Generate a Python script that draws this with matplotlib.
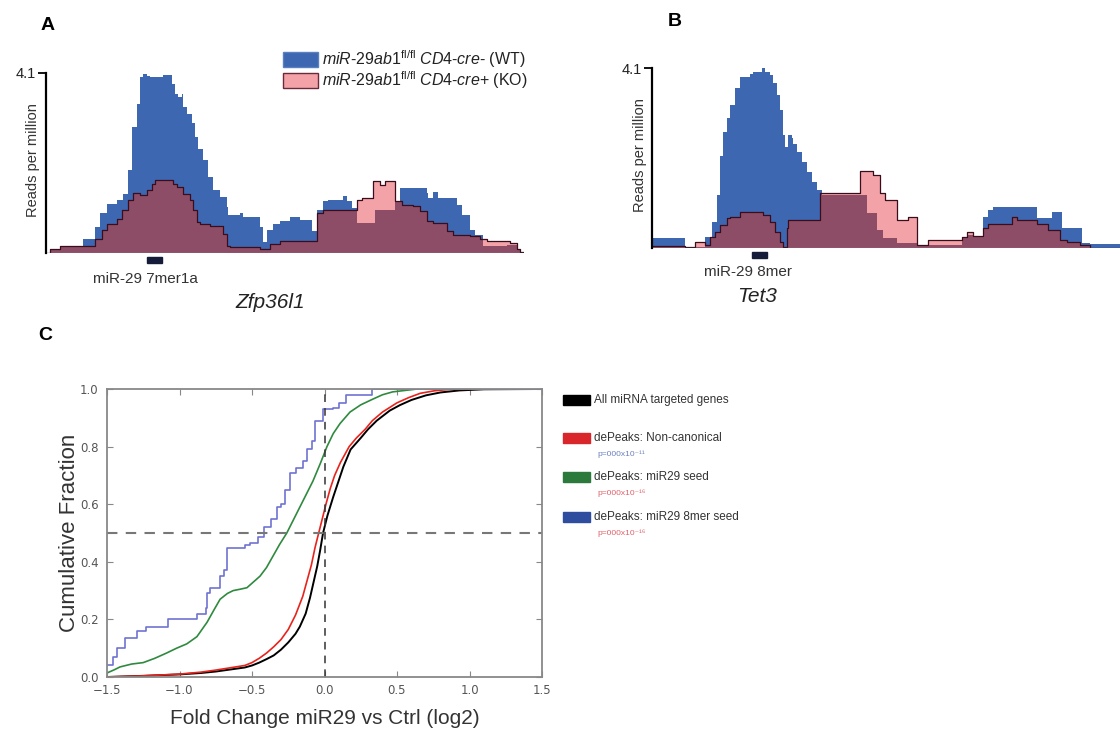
import numpy as np
import matplotlib
matplotlib.use("Agg")
import matplotlib.pyplot as plt
from matplotlib.patches import Rectangle

plt.rcParams['font.family'] = ['Liberation Sans', 'DejaVu Sans']
plt.rcParams['mathtext.fontset'] = 'custom'
plt.rcParams['mathtext.rm'] = 'Liberation Sans'
plt.rcParams['mathtext.it'] = 'Liberation Sans:italic'
plt.rcParams['mathtext.bf'] = 'Liberation Sans:bold'

# ---------------- data: coverage tracks (position, reads per million) -------------
WT_A = [(0, 0.0), (4, 0.08), (14, 0.17), (37, 0.33), (49, 0.59), (54, 0.9), (61, 1.11), (71, 1.2),
        (77, 1.35), (82, 1.88), (86, 2.87), (91, 3.4), (94, 4.0), (97, 4.08), (101, 4.03), (104, 4.0),
        (117, 4.05), (126, 3.86), (129, 3.63), (132, 3.55), (136, 3.62), (137, 3.33), (141, 3.17),
        (146, 2.95), (149, 2.64), (152, 2.38), (157, 2.11), (162, 1.73), (167, 1.43), (174, 1.28),
        (181, 1.05), (182, 0.86), (194, 0.9), (197, 0.82), (214, 0.59), (217, 0.25), (221, 0.52),
        (227, 0.67), (234, 0.72), (244, 0.81), (254, 0.76), (266, 0.49), (271, 0.99), (277, 1.18),
        (282, 1.21), (297, 1.29), (301, 1.18), (306, 1.03), (311, 0.68), (329, 0.99), (349, 1.18),
        (354, 1.48), (381, 1.37), (382, 1.25), (387, 1.4), (392, 1.25), (411, 1.1), (416, 0.87),
        (424, 0.53), (429, 0.42), (437, 0.15), (461, 0.19), (471, 0.08), (474, 0.02)]
KO_A = [(0, 0.0), (4, 0.08), (14, 0.17), (49, 0.33), (56, 0.52), (61, 0.67), (71, 0.78), (76, 0.97),
        (82, 1.2), (87, 1.37), (94, 1.31), (101, 1.43), (106, 1.58), (109, 1.67), (127, 1.58),
        (131, 1.5), (137, 1.35), (144, 1.2), (147, 0.97), (151, 0.71), (154, 0.65), (164, 0.61),
        (177, 0.44), (181, 0.17), (184, 0.14), (214, 0.1), (224, 0.2), (234, 0.28), (271, 0.91),
        (277, 0.99), (311, 1.21), (316, 1.25), (327, 1.63), (334, 1.56), (339, 1.63), (349, 1.18),
        (356, 1.1), (367, 1.06), (374, 0.95), (381, 0.72), (387, 0.68), (401, 0.49), (407, 0.42),
        (424, 0.38), (434, 0.33), (441, 0.27), (464, 0.23), (471, 0.08), (474, 0.02)]
END_A = 477

WT_B = [(0, 0.22), (33, 0.02), (53, 0.26), (60, 0.6), (65, 1.2), (68, 2.1), (71, 2.65), (75, 2.95),
        (78, 3.26), (83, 3.64), (88, 3.9), (98, 3.97), (101, 4.02), (110, 4.09), (113, 4.02),
        (118, 3.94), (121, 3.75), (125, 3.48), (128, 3.14), (131, 2.57), (133, 2.31), (136, 2.57),
        (140, 2.5), (141, 2.38), (145, 2.19), (150, 1.97), (155, 1.74), (160, 1.51), (165, 1.32),
        (170, 1.2), (215, 0.79), (225, 0.41), (231, 0.22), (245, 0.11), (265, 0.07), (310, 0.22),
        (315, 0.3), (321, 0.27), (331, 0.71), (336, 0.87), (341, 0.93), (385, 0.68), (400, 0.83),
        (410, 0.45), (430, 0.11), (438, 0.08)]
KO_B = [(0, 0.05), (33, 0.03), (43, 0.14), (53, 0.07), (58, 0.26), (63, 0.37), (68, 0.52), (75, 0.68),
        (78, 0.71), (88, 0.83), (111, 0.75), (118, 0.6), (123, 0.37), (128, 0.14), (131, 0.03),
        (135, 0.45), (136, 0.64), (168, 1.25), (208, 1.76), (221, 1.66), (228, 1.25), (233, 1.09),
        (245, 0.64), (256, 0.71), (265, 0.07), (276, 0.18), (310, 0.26), (315, 0.37), (321, 0.27),
        (331, 0.45), (336, 0.55), (360, 0.71), (365, 0.64), (385, 0.55), (396, 0.41), (408, 0.18),
        (415, 0.14), (428, 0.07), (438, 0.0)]
END_B = 468

SITE_A = (101, 116)
SITE_B = (100, 115)
TRACK_MAX = 4.1

# ---------------- data: cumulative distributions -------------
ALL_X = [-1.5, -1.25, -1.0, -0.85, -0.75, -0.65, -0.55, -0.5, -0.45, -0.4, -0.35, -0.3, -0.25, -0.2,
         -0.17, -0.13, -0.1, -0.075, -0.05, -0.03, -0.01, 0.02, 0.06, 0.1, 0.13, 0.18, 0.25, 0.3, 0.36,
         0.45, 0.52, 0.6, 0.7, 0.8, 0.93, 1.1, 1.5]
ALL_Y = [0.0, 0.004, 0.009, 0.014, 0.019, 0.026, 0.033, 0.04, 0.05, 0.062, 0.075, 0.095, 0.12, 0.15,
         0.175, 0.22, 0.275, 0.33, 0.385, 0.44, 0.5, 0.56, 0.625, 0.685, 0.73, 0.79, 0.83, 0.86, 0.89,
         0.925, 0.944, 0.962, 0.978, 0.988, 0.995, 0.999, 1.0]
NC_X = [-1.5, -1.25, -1.0, -0.85, -0.75, -0.65, -0.55, -0.5, -0.45, -0.4, -0.35, -0.3, -0.25, -0.2,
        -0.15, -0.12, -0.09, -0.065, -0.04, -0.02, 0.01, 0.04, 0.07, 0.11, 0.17, 0.22, 0.28, 0.33, 0.4,
        0.5, 0.58, 0.66, 0.76, 0.87, 1.5]
NC_Y = [0.0, 0.004, 0.01, 0.017, 0.024, 0.032, 0.04, 0.05, 0.065, 0.083, 0.105, 0.13, 0.165, 0.215,
        0.28, 0.335, 0.39, 0.45, 0.5, 0.54, 0.6, 0.655, 0.7, 0.745, 0.8, 0.83, 0.86, 0.89, 0.92, 0.952,
        0.97, 0.985, 0.994, 0.999, 1.0]
SEED_X = [-1.5, -1.45, -1.41, -1.33, -1.25, -1.17, -1.09, -1.02, -0.95, -0.88, -0.81, -0.76, -0.72,
          -0.67, -0.63, -0.58, -0.535, -0.49, -0.445, -0.4, -0.355, -0.31, -0.26, -0.215, -0.17, -0.125,
          -0.08, -0.03, 0.017, 0.06, 0.107, 0.176, 0.25, 0.334, 0.4, 0.47, 0.64, 1.5]
SEED_Y = [0.014, 0.025, 0.035, 0.045, 0.05, 0.065, 0.083, 0.1, 0.115, 0.14, 0.19, 0.235, 0.27, 0.29,
          0.3, 0.305, 0.31, 0.33, 0.35, 0.38, 0.42, 0.46, 0.5, 0.545, 0.59, 0.635, 0.68, 0.74, 0.8,
          0.845, 0.88, 0.92, 0.945, 0.965, 0.98, 0.99, 1.0, 1.0]
MER8_X = [-1.5, -1.46, -1.43, -1.375, -1.29, -1.23, -1.08, -0.88, -0.82, -0.81, -0.79, -0.72, -0.69,
          -0.67, -0.55, -0.514, -0.46, -0.42, -0.37, -0.33, -0.3, -0.27, -0.235, -0.2, -0.15, -0.12,
          -0.085, -0.068, -0.01, 0.06, 0.1, 0.15, 0.33, 1.5]
MER8_Y = [0.042, 0.07, 0.1, 0.135, 0.16, 0.175, 0.2, 0.22, 0.24, 0.29, 0.31, 0.35, 0.37, 0.448, 0.46,
          0.465, 0.486, 0.52, 0.55, 0.59, 0.6, 0.65, 0.71, 0.725, 0.75, 0.79, 0.82, 0.89, 0.93, 0.935,
          0.95, 0.98, 1.0, 1.0]

C_XTICKS = [-1.5, -1.0, -0.5, 0.0, 0.5, 1.0, 1.5]
C_YTICKS = [0.0, 0.2, 0.4, 0.6, 0.8, 1.0]
LEGEND_C = ["All miRNA targeted genes", "dePeaks: Non-canonical", "dePeaks: miR29 seed",
            "dePeaks: miR29 8mer seed"]
PVALS = ["p=000x10\u207b\u00b9\u00b9", "p=000x10\u207b\u00b9\u2076", "p=000x10\u207b\u00b9\u2076"]

# ---------------- styles -------------
BLUE = '#3d67b1'
PINK = '#f3a3a8'
MAUVE = '#8e4d66'
KOLINE = '#3a0d1c'
SITE = '#141c3a'
C_COLORS = ['#000000', '#e8231c', '#2f8a3e', '#6f72d2']
LEG_COLORS = ['#000000', '#d9262a', '#2b7a3b', '#2f4d9f']
PV_COLORS = ['#6b80c0', '#e0606a', '#e0606a']

W, H = 1120, 736
fig = plt.figure(figsize=(W / 100, H / 100), dpi=100)


def px_axes(l, t, r, b):
    return fig.add_axes([l / W, 1 - b / H, (r - l) / W, (b - t) / H])


def step_eval(xs, ys, grid):
    idx = np.searchsorted(xs, grid, side='right') - 1
    idx = np.clip(idx, 0, len(ys) - 1)
    return np.asarray(ys)[idx]


def draw_track(ax, wt, ko, end, xmax):
    wx, wy = np.array(wt).T
    kx, ky = np.array(ko).T
    grid = np.append(np.union1d(wx, kx), end)
    wv = step_eval(wx, wy, grid)
    kv = step_eval(kx, ky, grid)
    ax.fill_between(grid, 0, wv, step='post', color=BLUE, lw=0)
    ax.fill_between(grid, 0, kv, step='post', color=PINK, lw=0)
    ax.fill_between(grid, 0, np.minimum(wv, kv), step='post', color=MAUVE, lw=0)
    ax.step(grid, kv, where='post', color=KOLINE, lw=0.9)
    ax.axhline(0, color='#b9c4e0', lw=0.8)
    ax.set_xlim(0, xmax)
    ax.set_ylim(0, TRACK_MAX)
    for s in ['top', 'right', 'bottom']:
        ax.spines[s].set_visible(False)
    ax.spines['left'].set_linewidth(1.6)
    ax.set_xticks([])
    ax.set_yticks([TRACK_MAX])
    ax.set_yticklabels(['4.1'], fontsize=10.5, color='#222222')
    ax.tick_params(axis='y', length=6, width=1.3, pad=1)
    ax.patch.set_alpha(0)


# Panel A
axA = px_axes(46, 73, 524, 253)
draw_track(axA, WT_A, KO_A, END_A, 478)
axA.add_patch(Rectangle((SITE_A[0], -0.22), SITE_A[1] - SITE_A[0], 0.13, color=SITE, clip_on=False))
fig.text(33 / W, 1 - 160 / H, 'Reads per million', rotation=90, fontsize=10.5, color='#333333',
         ha='center', va='center')
fig.text(145 / W, 1 - 279 / H, 'miR-29 7mer1a', fontsize=11, color='#333333', ha='center', va='center')
fig.text(270 / W, 1 - 302 / H, 'Zfp36l1', fontsize=15, style='italic', color='#222222',
         ha='center', va='center')

# Panel B
axB = px_axes(652, 68, 1120, 248)
draw_track(axB, WT_B, KO_B, END_B, 468)
axB.add_patch(Rectangle((SITE_B[0], -0.22), SITE_B[1] - SITE_B[0], 0.13, color=SITE, clip_on=False))
fig.text(640 / W, 1 - 155 / H, 'Reads per million', rotation=90, fontsize=10.5, color='#333333',
         ha='center', va='center')
fig.text(748 / W, 1 - 272 / H, 'miR-29 8mer', fontsize=11, color='#333333', ha='center', va='center')
fig.text(757 / W, 1 - 297 / H, 'Tet3', fontsize=15, style='italic', color='#222222',
         ha='center', va='center')

# Legend A
leg_labels = [r"$\mathit{miR‐29ab1}^{\mathrm{fl/fl}}\ \mathit{CD4‐cre}$- (WT)",
              r"$\mathit{miR‐29ab1}^{\mathrm{fl/fl}}\ \mathit{CD4‐cre}$+ (KO)"]
leg_fc = [BLUE, PINK]
leg_ec = ['#5a80c0', '#6a2a3a']
for i, (lab, fc, ec) in enumerate(zip(leg_labels, leg_fc, leg_ec)):
    yc = 59.5 + i * 20.5
    fig.add_artist(Rectangle((283 / W, 1 - (yc + 7.5) / H), 35 / W, 15 / H, facecolor=fc, edgecolor=ec,
                             lw=1, transform=fig.transFigure))
    fig.text(322 / W, 1 - yc / H, lab, fontsize=11.5, color='#222222', ha='left', va='center')

# Panel labels
for lab, x, y in [('A', 41, 25), ('B', 668, 21), ('C', 38, 335)]:
    fig.text(x / W, 1 - y / H, lab, fontsize=14, fontweight='bold', ha='left', va='center')

# Panel C
axC = px_axes(107, 389, 542, 677)
axC.plot(ALL_X, ALL_Y, color=C_COLORS[0], lw=1.4)
axC.plot(NC_X, NC_Y, color=C_COLORS[1], lw=1.2)
axC.plot(SEED_X, SEED_Y, color=C_COLORS[2], lw=1.2)
axC.plot(MER8_X, MER8_Y, color=C_COLORS[3], lw=1.2, drawstyle='steps-post')
axC.axhline(0.5, color='#777777', lw=1.5, ls=(0, (5, 4)))
axC.axvline(0.0, color='#333333', lw=1.1, ls=(0, (5, 4)))
axC.set_xlim(-1.5, 1.5)
axC.set_ylim(0, 1.0)
axC.set_xticks(C_XTICKS)
axC.set_yticks(C_YTICKS)
axC.set_xticklabels([f"{v:.1f}".replace('-', '\u2212') for v in C_XTICKS], family='DejaVu Sans',
                    fontsize=8.5, color='#555555')
axC.set_yticklabels([f"{v:.1f}" for v in C_YTICKS], family='DejaVu Sans', fontsize=8.5, color='#555555')
axC.tick_params(direction='in', top=True, right=True, length=4, color='#888888')
axC.tick_params(axis='x', pad=5)
axC.tick_params(axis='y', pad=6)
for s in axC.spines.values():
    s.set_color('#888888')
    s.set_linewidth(1.3)
axC.set_xlabel('Fold Change miR29 vs Ctrl (log2)', fontsize=15, color='#333333', labelpad=9)
axC.set_ylabel('Cumulative Fraction', fontsize=16, color='#333333', labelpad=0)

# Legend C
rows = [400, 438, 477, 517]
for i, (lab, col, yc) in enumerate(zip(LEGEND_C, LEG_COLORS, rows)):
    fig.add_artist(Rectangle((563 / W, 1 - (yc + 5) / H), 27 / W, 10 / H, facecolor=col, edgecolor=col,
                             transform=fig.transFigure))
    fig.text(594 / W, 1 - yc / H, lab, fontsize=8.5, color='#333333', ha='left', va='center')
    if i > 0:
        fig.text(597 / W, 1 - (yc + 16) / H, PVALS[i - 1], fontsize=6, color=PV_COLORS[i - 1],
                 ha='left', va='center')

fig.savefig('out.png', dpi=100)
